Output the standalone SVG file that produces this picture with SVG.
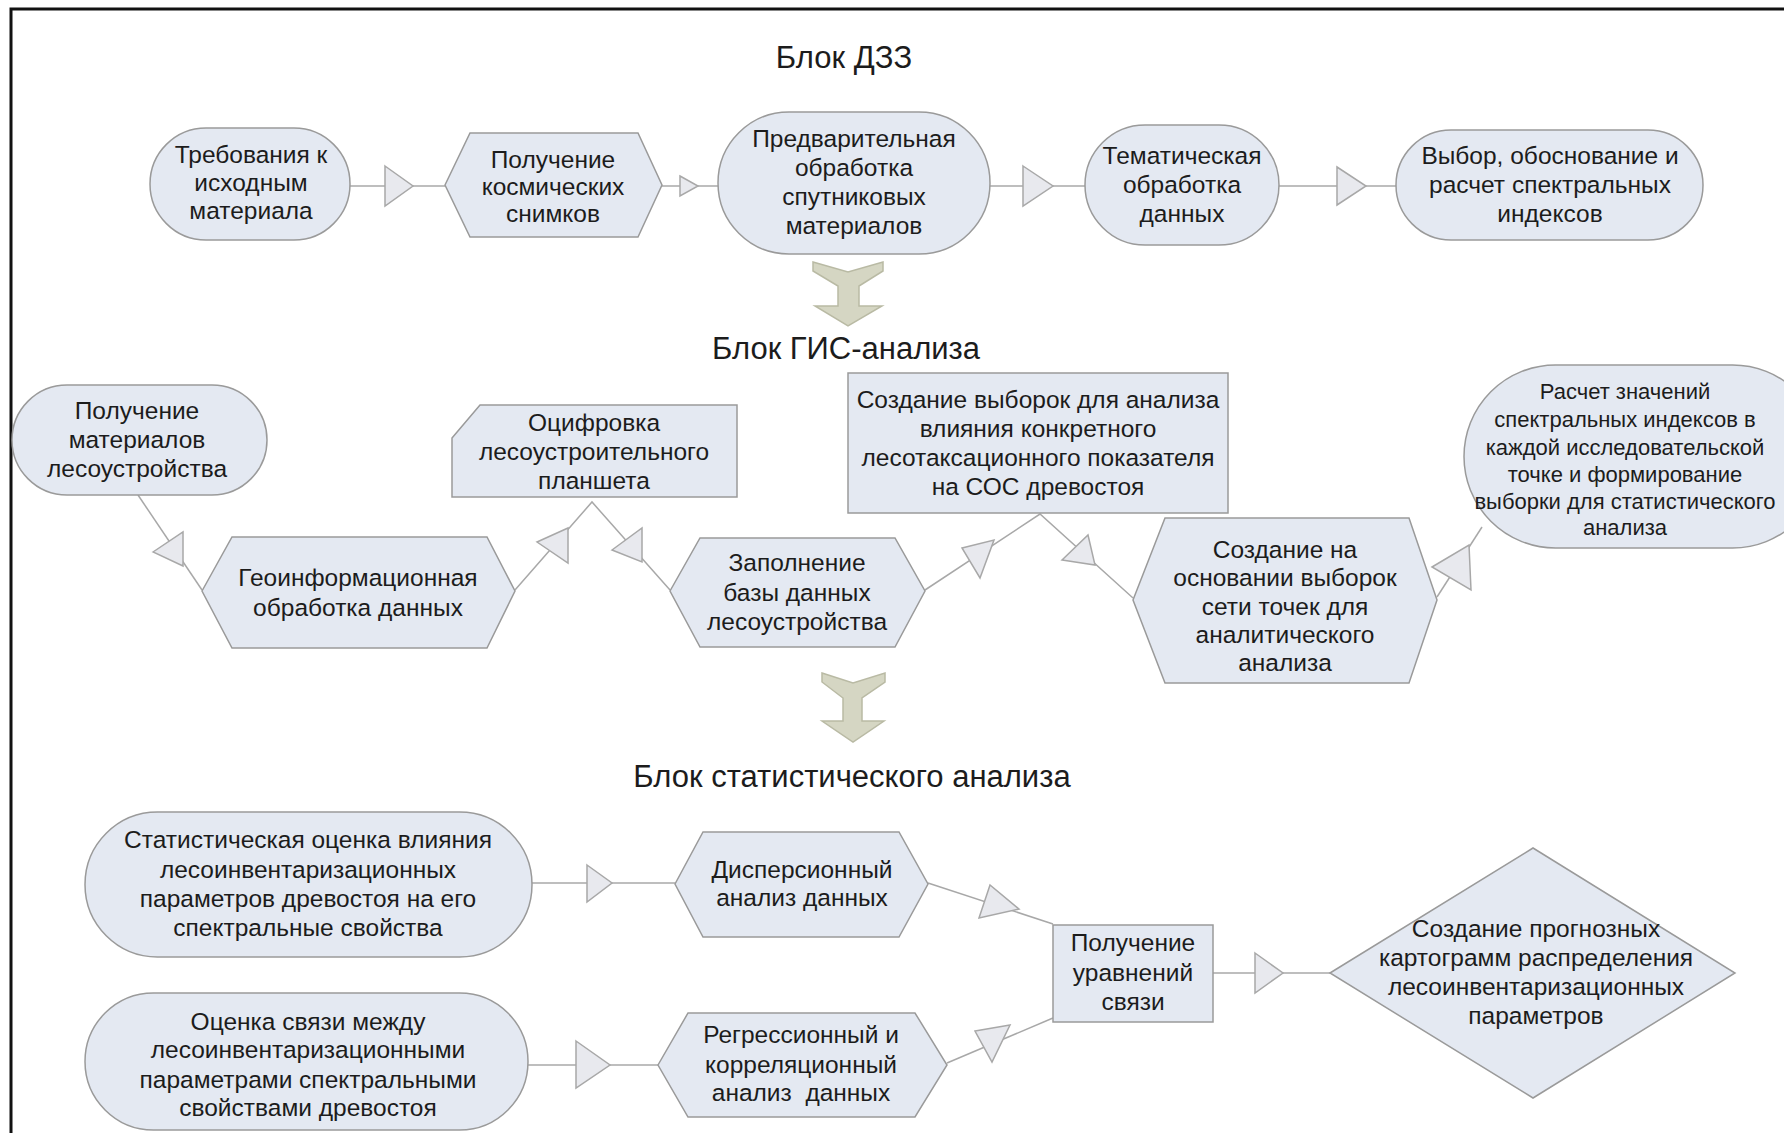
<svg xmlns="http://www.w3.org/2000/svg" width="1784" height="1133" viewBox="0 0 1784 1133">
<style>
.node{fill:#e4e9f2;stroke:#9a9a9a;stroke-width:1.5}
.t{font-family:"Liberation Sans",Arial,sans-serif;font-size:24.5px;fill:#1c1c1c;text-anchor:middle}
.t22{font-size:22px}
.h{font-family:"Liberation Sans",Arial,sans-serif;font-size:31px;fill:#1c1c1c;text-anchor:middle}
.conn{stroke:#a8a8a8;stroke-width:1.5;fill:none}
.tri{fill:#e8e9ee;stroke:#a8a8a8;stroke-width:1.5}
.big{fill:#d5d6c3;stroke:#b9baa4;stroke-width:1.5}
</style>
<rect x="0" y="0" width="1784" height="1133" fill="#fff"/>
<path d="M11 1140 V9 H1790" fill="none" stroke="#111" stroke-width="3"/>

<g id="connectors">
  <!-- row 1 -->
  <line class="conn" x1="350" y1="186" x2="445" y2="186"/>
  <polygon class="tri" points="385,166 413,186 385,206"/>
  <line class="conn" x1="662" y1="186" x2="718" y2="186"/>
  <polygon class="tri" points="680,176 698,186 680,196"/>
  <line class="conn" x1="990" y1="186" x2="1085" y2="186"/>
  <polygon class="tri" points="1023,166 1053,186 1023,206"/>
  <line class="conn" x1="1279" y1="186" x2="1396" y2="186"/>
  <polygon class="tri" points="1337,167 1366,186 1337,205"/>
  <!-- row 2 -->
  <polyline class="conn" points="138,495 202,590"/>
  <polygon class="tri" points="153,552 183,532 183,566"/>
  <polyline class="conn" points="515,590 592,502 670,590"/>
  <polygon class="tri" points="537,542 568,528 568,563"/>
  <polygon class="tri" points="612,550 642,528 642,562"/>
  <polyline class="conn" points="925,590 1040,514 1133,598"/>
  <polygon class="tri" points="962,548 994,540 980,578"/>
  <polygon class="tri" points="1062,560 1088,535 1095,565"/>
  <polyline class="conn" points="1437,597 1482,527"/>
  <polygon class="tri" points="1432,567 1469,545 1471,590"/>
  <!-- row 3 -->
  <line class="conn" x1="532" y1="883" x2="675" y2="883"/>
  <polygon class="tri" points="587,865 612,883 587,902"/>
  <polyline class="conn" points="928,883 1053,924"/>
  <polygon class="tri" points="979,918 990,885 1019,909"/>
  <line class="conn" x1="528" y1="1065" x2="658" y2="1065"/>
  <polygon class="tri" points="576,1041 610,1065 576,1088"/>
  <polyline class="conn" points="947,1063 1053,1018"/>
  <polygon class="tri" points="975,1031 1010,1025 992,1062"/>
  <line class="conn" x1="1213" y1="973" x2="1330" y2="973"/>
  <polygon class="tri" points="1255,953 1283,973 1255,993"/>
</g>

<g id="title-dzz"><text class="h" x="844" y="68">Блок ДЗЗ</text></g>

<g id="n-treb">
  <rect class="node" x="150" y="128" width="200" height="112" rx="56"/>
  <text class="t" x="251" y="163">Требования к</text>
  <text class="t" x="251" y="191">исходным</text>
  <text class="t" x="251" y="219">материала</text>
</g>
<g id="n-poluch-kosm">
  <polygon class="node" points="445,185 470,133 638,133 662,185 638,237 470,237"/>
  <text class="t" x="553" y="168">Получение</text>
  <text class="t" x="553" y="195">космических</text>
  <text class="t" x="553" y="222">снимков</text>
</g>
<g id="n-predv">
  <rect class="node" x="718" y="112" width="272" height="142" rx="71"/>
  <text class="t" x="854" y="147">Предварительная</text>
  <text class="t" x="854" y="176">обработка</text>
  <text class="t" x="854" y="205">спутниковых</text>
  <text class="t" x="854" y="234">материалов</text>
</g>
<g id="n-temat">
  <rect class="node" x="1085" y="125" width="194" height="120" rx="60"/>
  <text class="t" x="1182" y="164">Тематическая</text>
  <text class="t" x="1182" y="193">обработка</text>
  <text class="t" x="1182" y="222">данных</text>
</g>
<g id="n-vybor">
  <rect class="node" x="1396" y="130" width="307" height="110" rx="55"/>
  <text class="t" x="1550" y="164">Выбор, обоснование и</text>
  <text class="t" x="1550" y="193">расчет спектральных</text>
  <text class="t" x="1550" y="222">индексов</text>
</g>

<g id="arrow-1"><path class="big" d="M813 262 L848 272 L883 262 L883 271 L859 286 L859 306 L882 306 L848 326 L815 306 L838 306 L838 286 L813 271 Z"/></g>
<g id="title-gis"><text class="h" x="846" y="359">Блок ГИС-анализа</text></g>

<g id="n-poluch-les">
  <rect class="node" x="12" y="385" width="255" height="110" rx="55"/>
  <text class="t" x="137" y="419">Получение</text>
  <text class="t" x="137" y="448">материалов</text>
  <text class="t" x="137" y="477">лесоустройства</text>
</g>
<g id="n-geoinf">
  <polygon class="node" points="202,591 232,537 487,537 515,591 487,648 232,648"/>
  <text class="t" x="358" y="586">Геоинформационная</text>
  <text class="t" x="358" y="616">обработка данных</text>
</g>
<g id="n-ocifr">
  <polygon class="node" points="452,438 480,405 737,405 737,497 452,497"/>
  <text class="t" x="594" y="431">Оцифровка</text>
  <text class="t" x="594" y="460">лесоустроительного</text>
  <text class="t" x="594" y="489">планшета</text>
</g>
<g id="n-zapoln">
  <polygon class="node" points="670,591 700,538 895,538 925,591 895,647 700,647"/>
  <text class="t" x="797" y="571">Заполнение</text>
  <text class="t" x="797" y="601">базы данных</text>
  <text class="t" x="797" y="630">лесоустройства</text>
</g>
<g id="n-sozd-vyb">
  <rect class="node" x="848" y="373" width="380" height="140"/>
  <text class="t" x="1038" y="408">Создание выборок для анализа</text>
  <text class="t" x="1038" y="437">влияния конкретного</text>
  <text class="t" x="1038" y="466">лесотаксационного показателя</text>
  <text class="t" x="1038" y="495">на СОС древостоя</text>
</g>
<g id="n-sozd-set">
  <polygon class="node" points="1133,600 1165,518 1409,518 1437,600 1409,683 1165,683"/>
  <text class="t" x="1285" y="558">Создание на</text>
  <text class="t" x="1285" y="586">основании выборок</text>
  <text class="t" x="1285" y="615">сети точек для</text>
  <text class="t" x="1285" y="643">аналитического</text>
  <text class="t" x="1285" y="671">анализа</text>
</g>
<g id="n-raschet">
  <rect class="node" x="1464" y="365" width="360" height="183" rx="91.5"/>
  <text class="t t22" x="1625" y="399">Расчет значений</text>
  <text class="t t22" x="1625" y="427">спектральных индексов в</text>
  <text class="t t22" x="1625" y="455">каждой исследовательской</text>
  <text class="t t22" x="1625" y="482">точке и формирование</text>
  <text class="t t22" x="1625" y="509">выборки для статистического</text>
  <text class="t t22" x="1625" y="535">анализа</text>
</g>

<g id="arrow-2"><path class="big" d="M822 673 L853 683 L885 673 L885 682 L862 698 L862 721 L884 721 L853 742 L822 721 L843 721 L843 698 L822 682 Z"/></g>
<g id="title-stat"><text class="h" x="852" y="787">Блок статистического анализа</text></g>

<g id="n-stat-ocenka">
  <rect class="node" x="85" y="812" width="447" height="145" rx="72.5"/>
  <text class="t" x="308" y="848">Статистическая оценка влияния</text>
  <text class="t" x="308" y="878">лесоинвентаризационных</text>
  <text class="t" x="308" y="907">параметров древостоя на его</text>
  <text class="t" x="308" y="936">спектральные свойства</text>
</g>
<g id="n-ocenka-svyazi">
  <rect class="node" x="85" y="993" width="443" height="137" rx="68.5"/>
  <text class="t" x="308" y="1030">Оценка связи между</text>
  <text class="t" x="308" y="1058">лесоинвентаризационными</text>
  <text class="t" x="308" y="1088">параметрами спектральными</text>
  <text class="t" x="308" y="1116">свойствами древостоя</text>
</g>
<g id="n-disp">
  <polygon class="node" points="675,884 703,832 899,832 928,884 899,937 703,937"/>
  <text class="t" x="802" y="878">Дисперсионный</text>
  <text class="t" x="802" y="906">анализ данных</text>
</g>
<g id="n-regr">
  <polygon class="node" points="658,1065 688,1013 915,1013 947,1065 915,1117 688,1117"/>
  <text class="t" x="801" y="1043">Регрессионный и</text>
  <text class="t" x="801" y="1073">корреляционный</text>
  <text class="t" x="801" y="1101" xml:space="preserve">анализ  данных</text>
</g>
<g id="n-urav">
  <rect class="node" x="1053" y="925" width="160" height="97"/>
  <text class="t" x="1133" y="951">Получение</text>
  <text class="t" x="1133" y="981">уравнений</text>
  <text class="t" x="1133" y="1010">связи</text>
</g>
<g id="n-kartogr">
  <polygon class="node" points="1330,973 1533,848 1735,973 1533,1098"/>
  <text class="t" x="1536" y="937">Создание прогнозных</text>
  <text class="t" x="1536" y="966">картограмм распределения</text>
  <text class="t" x="1536" y="995">лесоинвентаризационных</text>
  <text class="t" x="1536" y="1024">параметров</text>
</g>
</svg>
